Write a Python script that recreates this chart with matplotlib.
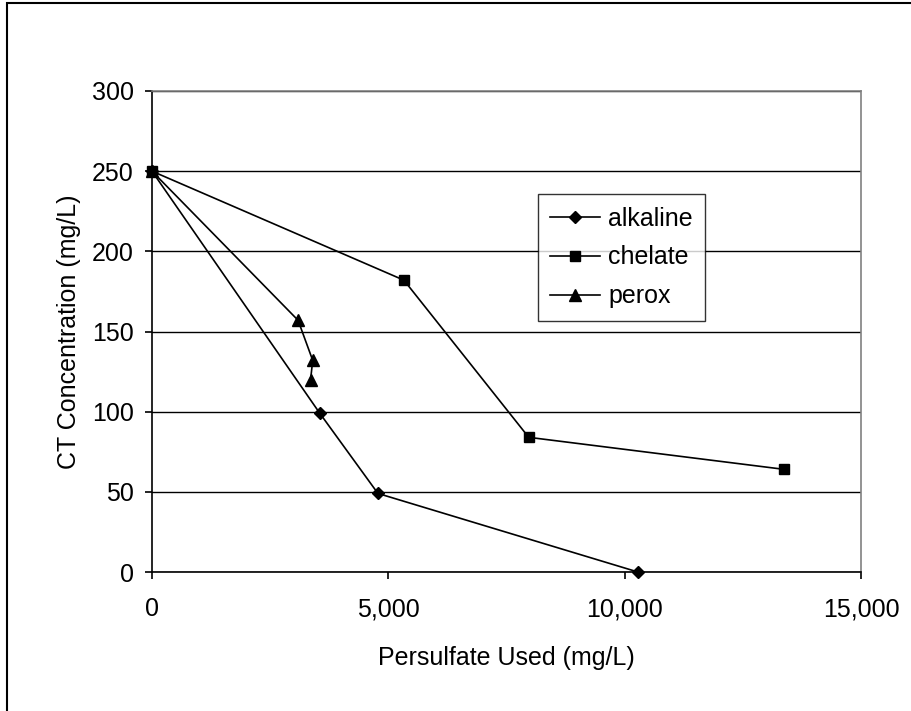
import matplotlib.pyplot as plt
from matplotlib.patches import Rectangle
from matplotlib.ticker import FuncFormatter

plt.rcParams['font.family'] = ['Liberation Sans', 'DejaVu Sans']

# data
alk_x = [0, 3550, 4780, 10280]
alk_y = [250, 99, 49, 0]
che_x = [0, 5330, 7970, 13380]
che_y = [250, 182, 84, 64]
per_x = [0, 3090, 3400, 3355]
per_y = [250, 157, 132, 120]

x_ticks = [0, 5000, 10000, 15000]
y_ticks = [0, 50, 100, 150, 200, 250, 300]

W, H = 912, 711
fs = 18
fig = plt.figure(figsize=(W / 100, H / 100), dpi=100)
ax = fig.add_axes([152 / W, 1 - 572 / H, (861 - 152) / W, (572 - 91) / H])

ax.plot(alk_x, alk_y, color='black', lw=1.2, marker='D', ms=6.5, label='alkaline', clip_on=False, zorder=3)
ax.plot(che_x, che_y, color='black', lw=1.2, marker='s', ms=7, label='chelate', clip_on=False, zorder=3)
ax.plot(per_x, per_y, color='black', lw=1.2, marker='^', ms=8.5, label='perox', clip_on=False, zorder=3)

ax.set_xlim(0, 15000)
ax.set_ylim(0, 300)
ax.set_xticks(x_ticks)
ax.set_yticks(y_ticks)
ax.xaxis.set_major_formatter(FuncFormatter(lambda v, p: f'{int(v):,}'))
ax.yaxis.grid(True, color='black', lw=1)
ax.set_axisbelow(True)

for s in ['top', 'right']:
    ax.spines[s].set_color('#808080')
    ax.spines[s].set_linewidth(1.2)
for s in ['left', 'bottom']:
    ax.spines[s].set_color('black')
    ax.spines[s].set_linewidth(1.2)

ax.tick_params(axis='both', direction='out', length=5, width=1.2, labelsize=fs)
ax.tick_params(axis='x', pad=13)
ax.tick_params(axis='y', pad=8)

ax.set_xlabel('Persulfate Used (mg/L)', fontsize=fs, labelpad=18)
ax.set_ylabel('CT Concentration (mg/L)', fontsize=fs, labelpad=8)

leg = ax.legend(loc='upper left', bbox_to_anchor=((538 - 152) / (861 - 152), (572 - 194) / (572 - 91)),
                fontsize=fs, frameon=True, fancybox=False, edgecolor='black',
                handlelength=2.0, handletextpad=0.3, borderpad=0.5, labelspacing=0.6,
                borderaxespad=0)
leg.get_frame().set_linewidth(1)

fig.patches.append(Rectangle((7 / W, -0.1), 1.2, 1 - 3 / H + 0.1, transform=fig.transFigure,
                             fill=False, edgecolor='black', lw=1.5))

fig.savefig('out.png', dpi=100)
